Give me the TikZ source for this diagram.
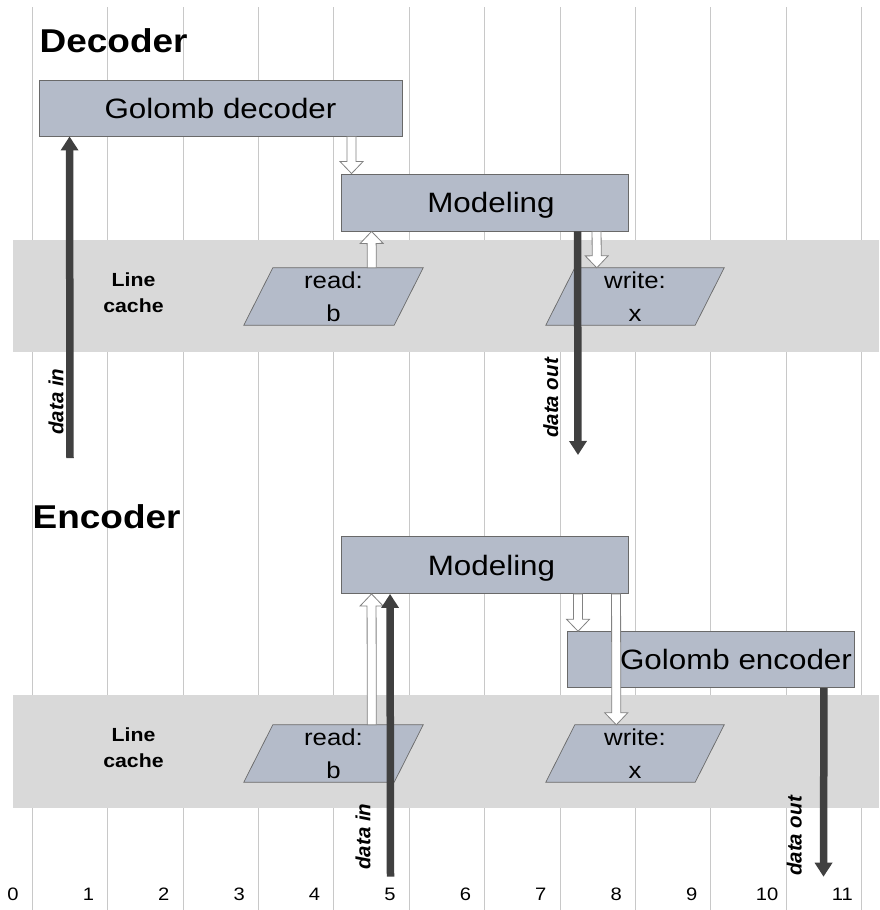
\documentclass[tikz,border=0pt]{standalone}
\usepackage{fontspec}
\setmainfont{Liberation Sans}[FakeStretch=1.12]
\newfontfamily\rotfont{Liberation Sans}
\usetikzlibrary{arrows.meta,calc}

\definecolor{gridgray}{RGB}{200,200,200}
\definecolor{bandgray}{RGB}{217,217,217}
\definecolor{boxfill}{RGB}{180,187,201}
\definecolor{boxline}{RGB}{105,105,105}
\definecolor{flowdark}{RGB}{64,64,64}
\definecolor{hollowline}{RGB}{130,130,130}

\pgfdeclarelayer{backdrop}
\pgfdeclarelayer{cells}
\pgfsetlayers{backdrop,cells,main}

\tikzset{
  stage/.style={draw=boxline, line width=0.9pt, fill=boxfill, inner sep=0pt,
    text height=20pt, text depth=0pt, font=\fontsize{28}{34}\selectfont},
  cachecell/.style={inner sep=0pt, align=center, font=\fontsize{23}{33}\selectfont},
  cacheshape/.style={draw=boxline, line width=0.7pt, fill=boxfill},
  cacheband/.style={fill=bandgray, draw=none},
  gridline/.style={draw=gridgray, line width=1pt},
  sectiontitle/.style={font=\fontsize{33}{40}\selectfont\bfseries, anchor=base west, inner sep=0pt},
  cachelabel/.style={font=\fontsize{19}{26}\selectfont\bfseries, align=center, inner sep=0pt},
  flowlabel/.style={font=\rotfont\fontsize{20.5}{24}\selectfont\bfseries\itshape,
    rotate=90, anchor=base, inner sep=0pt},
  dataflow/.style={draw=flowdark, line width=7.5pt, -{Triangle[length=14pt,width=17pt]}},
  hollowflow/.style={draw=hollowline, fill=white, line width=0.8pt, line join=miter},
  axisnum/.style={font=\fontsize{18}{22}\selectfont, anchor=base, inner sep=0pt},
}

% block arrow with white body, from #1 to #2
\newcommand\hollowarrow[2]{%
  \coordinate (hb) at ($(#2)!12pt!(#1)$);
  \draw[hollowflow] ($(#1)!4.5pt!90:(#2)$) -- ($(hb)!4.5pt!90:(#2)$)
    -- ($(hb)!11.5pt!90:(#2)$) -- (#2) -- ($(hb)!11.5pt!-90:(#2)$)
    -- ($(hb)!4.5pt!-90:(#2)$) -- ($(#1)!4.5pt!-90:(#2)$) -- cycle;}

% slanted cache cell drawn inside the bounding node #1
\newcommand\cellshape[1]{%
  \draw[cacheshape] ([xshift=29pt]#1.north west) -- (#1.north east)
    -- ([xshift=-29pt]#1.south east) -- (#1.south west) -- cycle;}

\begin{document}
\begin{tikzpicture}[x=1pt,y=-1pt]
\useasboundingbox (0,0) rectangle (879,910);

% column grid, cache bands and column numbers
\begin{pgfonlayer}{backdrop}
  \fill[white] (0,0) rectangle (879,910);
  \foreach \k in {0,...,11}
    \draw[gridline] ({32.3+75.4*\k},7) -- ({32.3+75.4*\k},910);
  \fill[cacheband] (13,240) rectangle (879,352);
  \fill[cacheband] (13,695) rectangle (879,808);
\end{pgfonlayer}
\foreach \k in {0,...,11}
  \node[axisnum] (n\k) at ({13+75.4*\k},900) {\k};

% ---------------- decoder ----------------
\node[sectiontitle] (dectitle) at (39.5,52) {Decoder};
\node[stage, minimum width=363pt, minimum height=56pt] (gdec) at (220.5,108) {Golomb decoder};
\node[stage, minimum width=287pt, minimum height=57pt] (mdec) at (484.5,202.5) {\hspace*{13pt}Modeling};
\node[cachelabel] (cdec) at (133.5,293.2) {Line\\cache};
\node[cachecell, minimum width=179pt, minimum height=57pt] (rdec) at (333.5,296.5) {read:\\b};
\node[cachecell, minimum width=178pt, minimum height=57pt] (wdec) at (635,296.5) {write:\\x};
\begin{pgfonlayer}{cells}
  \cellshape{rdec}
  \cellshape{wdec}
\end{pgfonlayer}

\coordinate (a1s) at ([xshift=313pt]gdec.south west);
\coordinate (a1e) at ([xshift=11pt]mdec.north west);
\hollowarrow{a1s}{a1e}
\coordinate (a2s) at ([xshift=128pt]rdec.north west);
\coordinate (a2e) at ([xshift=31pt]mdec.south west);
\hollowarrow{a2s}{a2e}
\coordinate (a3s) at ([xshift=256pt]mdec.south west);
\coordinate (a3e) at ([xshift=51pt]wdec.north west);
\hollowarrow{a3s}{a3e}

\coordinate (dinsrc) at (70,458);
\draw[dataflow] (dinsrc) -- ([xshift=31pt]gdec.south west);
\coordinate (doutdst) at (578,455);
\draw[dataflow] ([xshift=237pt]mdec.south west) -- (doutdst);
\node[flowlabel] (ldin) at (63.3,401.5) {data in};
\node[flowlabel] (ldout) at (558,398) {data out};

% ---------------- encoder ----------------
\node[sectiontitle] (enctitle) at (32.5,528) {Encoder};
\node[stage, minimum width=287pt, minimum height=57pt] (menc) at (485,565) {\hspace*{13pt}Modeling};
\node[stage, minimum width=287pt, minimum height=56pt] (genc) at (711,659.7) {\hspace*{50pt}Golomb encoder};
\node[cachelabel] (cenc) at (133.5,748) {Line\\cache};
\node[cachecell, minimum width=179pt, minimum height=57pt] (renc) at (333.5,753.5) {read:\\b};
\node[cachecell, minimum width=178pt, minimum height=57pt] (wenc) at (635,753.5) {write:\\x};
\begin{pgfonlayer}{cells}
  \cellshape{renc}
  \cellshape{wenc}
\end{pgfonlayer}

\coordinate (b1s) at ([xshift=128pt]renc.north west);
\coordinate (b1e) at ([xshift=30.5pt]menc.south west);
\hollowarrow{b1s}{b1e}
\coordinate (b2s) at ([xshift=237pt]menc.south west);
\coordinate (b2e) at ([xshift=11pt]genc.north west);
\hollowarrow{b2s}{b2e}
\coordinate (b3s) at ([xshift=275pt]menc.south west);
\coordinate (b3e) at ([xshift=70.5pt]wenc.north west);
\hollowarrow{b3s}{b3e}

\coordinate (einsrc) at (390.5,876.7);
\draw[dataflow] (einsrc) -- ([xshift=49pt]menc.south west);
\coordinate (eoutdst) at (823.5,876.7);
\draw[dataflow] ([xshift=-31pt]genc.south east) -- (eoutdst);
\node[flowlabel] (lein) at (370.3,836.5) {data in};
\node[flowlabel] (leout) at (801.5,836) {data out};

\end{tikzpicture}
\end{document}
